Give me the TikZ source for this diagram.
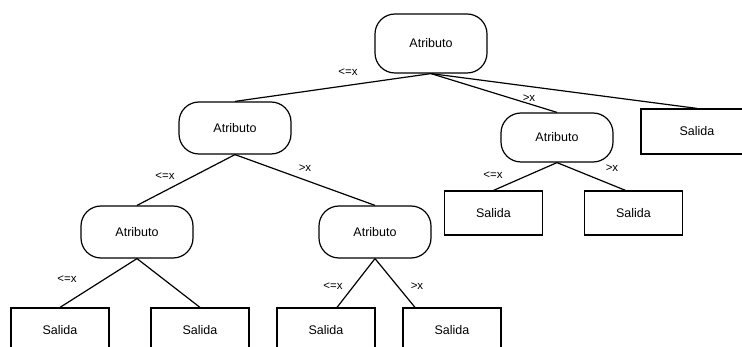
\documentclass[tikz,border=0pt]{standalone}
\usepackage{fontspec}
\setmainfont{Liberation Sans}
\begin{document}
\begin{tikzpicture}[x=1pt,y=-1pt,
  attr/.style={draw, line width=1.2pt, rounded corners=20pt, minimum width=112pt,
    minimum height=52pt, font=\fontsize{12.5}{14}\selectfont, inner sep=0pt},
  leaf/.style={draw, line width=1.2pt, minimum width=98pt, minimum height=44pt,
    font=\fontsize{12.5}{14}\selectfont, inner sep=0pt},
  edge/.style={line width=1.2pt},
  cond/.style={font=\fontsize{11.5}{13}\selectfont, inner sep=0pt}]
\useasboundingbox (0,0) rectangle (742,347);

% decision nodes
\node[attr, minimum height=59pt] (root) at (431,43.5) {Atributo};
\node[attr] (a1) at (235,128) {Atributo};
\node[attr, minimum height=49pt] (a2) at (557,137.5) {Atributo};
\node[attr] (a11) at (137,232) {Atributo};
\node[attr] (a12) at (375,232) {Atributo};

% outputs
\node[leaf, minimum width=112pt, minimum height=45pt] (s0) at (697,131.5) {Salida};
\node[leaf] (s21) at (493.5,213) {Salida};
\node[leaf] (s22) at (633.5,213) {Salida};
\node[leaf] (s111) at (60,330) {Salida};
\node[leaf] (s112) at (200,330) {Salida};
\node[leaf] (s121) at (326,330) {Salida};
\node[leaf] (s122) at (452,330) {Salida};

% branches
\draw[edge] (root.south) -- (a1.north);
\draw[edge] (root.south) -- (a2.north);
\draw[edge] (root.south) -- (s0.north);
\draw[edge] (a1.south) -- (a11.north);
\draw[edge] (a1.south) -- (a12.north);
\draw[edge] (a2.south) -- (s21.north);
\draw[edge] (a2.south) -- ([xshift=-8pt]s22.north);
\draw[edge] (a11.south) -- (s111.north);
\draw[edge] (a11.south) -- (s112.north);
\draw[edge] (a12.south) -- ([xshift=11pt]s121.north);
\draw[edge] (a12.south) -- ([xshift=-37pt]s122.north);

% branch conditions
\node[cond] (c1) at (348,72) {<=x};
\node[cond] (c2) at (529,98) {>x};
\node[cond] (c3) at (165,176) {<=x};
\node[cond] (c4) at (305,168) {>x};
\node[cond] (c5) at (67,279) {<=x};
\node[cond] (c6) at (333,286) {<=x};
\node[cond] (c7) at (417,286) {>x};
\node[cond] (c8) at (493,175) {<=x};
\node[cond] (c9) at (612,168) {>x};
\end{tikzpicture}
\end{document}
